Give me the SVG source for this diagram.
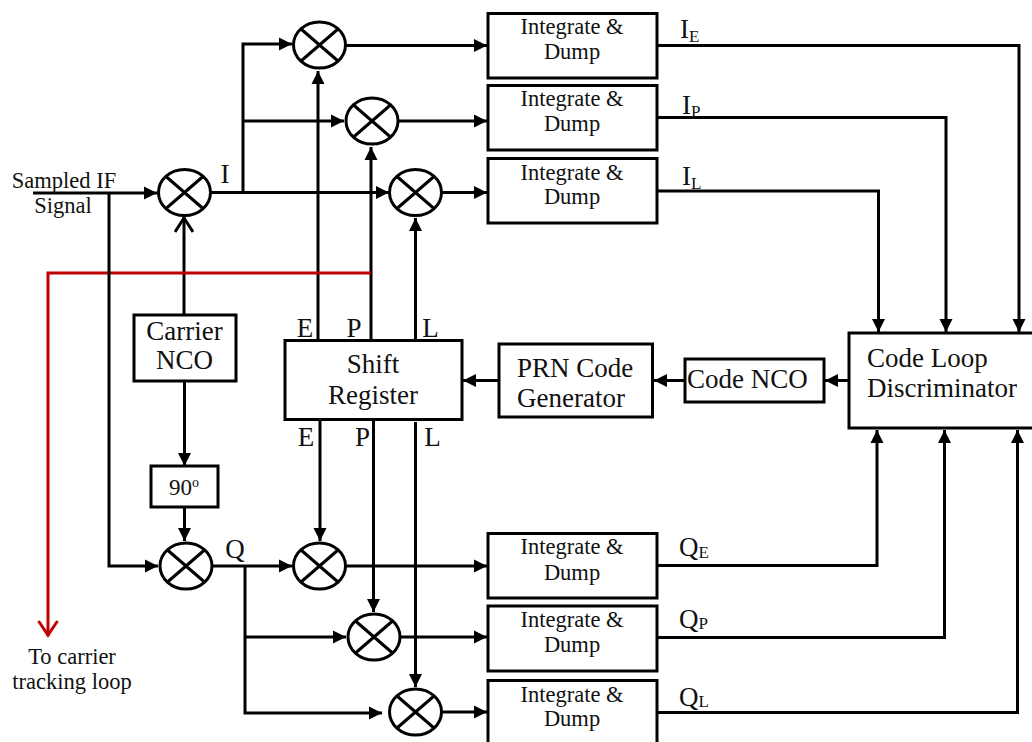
<svg xmlns="http://www.w3.org/2000/svg" width="1032" height="742" viewBox="0 0 1032 742">
<style>
text{font-family:"Liberation Serif","Times New Roman",serif;fill:#111;text-anchor:middle}
.s{font-size:22.500px}.l{font-size:27px}
.st{text-anchor:start}
.sub{font-size:17px}
.box{fill:#fff;stroke:#000;stroke-width:3}
#cross ellipse{fill:#fff;stroke:#000;stroke-width:3}
#cross path{fill:none;stroke:#000;stroke-width:3}
#connectors path{fill:none;stroke:#000;stroke-width:3}
#connectors .a{marker-end:url(#ah)}
#connectors .o{marker-end:url(#oh)}
#connectors .r{stroke:#c00000;marker-end:url(#rh)}
</style>
<defs>
<marker id="ah" markerUnits="userSpaceOnUse" markerWidth="14" markerHeight="14" refX="13" refY="7" orient="auto"><path d="M0 0.500L13 7L0 13.500Z" fill="#000"/></marker>
<marker id="oh" markerUnits="userSpaceOnUse" markerWidth="18" markerHeight="20" refX="16" refY="10" orient="auto"><path d="M1 1L15 10L1 19" fill="none" stroke="#000" stroke-width="3"/></marker>
<marker id="rh" markerUnits="userSpaceOnUse" markerWidth="18" markerHeight="22" refX="16" refY="11" orient="auto"><path d="M1 1.500L15 11L1 20.500" fill="none" stroke="#c00000" stroke-width="3"/></marker>
<g id="cross"><ellipse cx="0" cy="0" rx="26" ry="23"/><path d="M-18.500 -16L18.500 16M18.500 -16L-18.500 16"/></g>
</defs>
<g id="connectors">
<path class="a" d="M33 193H157"/>
<path class="a" d="M211 192.500H389"/>
<path class="a" d="M243 192V44H292"/>
<path class="a" d="M243 121H344"/>
<path class="a" d="M346 45.500H487"/>
<path class="a" d="M399 121H487"/>
<path class="a" d="M442 192.500H487"/>
<path class="a" d="M318 339V71"/>
<path class="a" d="M371 339V147"/>
<path class="a" d="M415.500 339V218"/>
<path class="o" d="M184 315V217"/>
<path class="r" d="M371 273H48V636"/>
<path class="a" d="M109 193V566H158"/>
<path class="a" d="M184.500 381V466"/>
<path class="a" d="M184.500 507V541"/>
<path class="a" d="M213 566H292"/>
<path class="a" d="M245 566V713H382"/>
<path class="a" d="M245 637H346"/>
<path class="a" d="M346 566H487"/>
<path class="a" d="M401 637H487"/>
<path class="a" d="M442 712H487"/>
<path class="a" d="M320 420V541"/>
<path class="a" d="M373.500 420V612"/>
<path class="a" d="M415.500 422V687"/>
<path class="a" d="M499 380.500H463"/>
<path class="a" d="M685 380.500H654"/>
<path class="a" d="M849 380.500H825"/>
<path class="a" d="M657 45.500H1019V332"/>
<path class="a" d="M657 117.500H946V332"/>
<path class="a" d="M657 191H878.500V332"/>
<path class="a" d="M657 565.500H877V430"/>
<path class="a" d="M657 637.500H944.500V430"/>
<path class="a" d="M657 712.500H1017.500V430"/>
</g>
<g id="mixer-ie"><use href="#cross" x="319.500" y="45"/></g>
<g id="mixer-ip"><use href="#cross" x="372" y="121"/></g>
<g id="mixer-il"><use href="#cross" x="415.500" y="192.500"/></g>
<g id="mixer-i"><use href="#cross" x="184.500" y="192.500"/></g>
<g id="mixer-q"><use href="#cross" x="186" y="566"/></g>
<g id="mixer-qe"><use href="#cross" x="319.500" y="566"/></g>
<g id="mixer-qp"><use href="#cross" x="374" y="637"/></g>
<g id="mixer-ql"><use href="#cross" x="415.500" y="712"/></g>
<g id="id-ie"><rect class="box" x="488" y="13.500" width="169" height="64.500"/><text class="s" x="572" y="34">Integrate &amp;</text><text class="s" x="572" y="59">Dump</text></g>
<g id="id-ip"><rect class="box" x="488" y="85.500" width="169" height="64.500"/><text class="s" x="572" y="106">Integrate &amp;</text><text class="s" x="572" y="131">Dump</text></g>
<g id="id-il"><rect class="box" x="488" y="158.500" width="169" height="64.500"/><text class="s" x="572" y="180">Integrate &amp;</text><text class="s" x="572" y="204">Dump</text></g>
<g id="id-qe"><rect class="box" x="488" y="533.500" width="169" height="64.500"/><text class="s" x="572" y="554">Integrate &amp;</text><text class="s" x="572" y="580">Dump</text></g>
<g id="id-qp"><rect class="box" x="488" y="606" width="169" height="65"/><text class="s" x="572" y="627">Integrate &amp;</text><text class="s" x="572" y="652">Dump</text></g>
<g id="id-ql"><rect class="box" x="488" y="680.500" width="169" height="70"/><text class="s" x="572" y="702">Integrate &amp;</text><text class="s" x="572" y="726">Dump</text></g>
<g id="carrier-nco"><rect class="box" x="134" y="315" width="102" height="66"/><text class="l" x="184.500" y="340">Carrier</text><text class="l" x="184.500" y="369">NCO</text></g>
<g id="phase-90"><rect class="box" x="151" y="466" width="67" height="41"/><text x="184" y="495" font-size="23">90<tspan font-size="14" dy="-8">o</tspan></text></g>
<g id="shift-register"><rect class="box" x="285" y="340.500" width="177" height="79"/><text class="l" x="373" y="373">Shift</text><text class="l" x="373" y="404">Register</text></g>
<g id="prn"><rect class="box" x="499" y="344" width="153.500" height="73"/><text class="l st" x="517" y="377">PRN Code</text><text class="l st" x="517" y="407">Generator</text></g>
<g id="code-nco"><rect class="box" x="685" y="359" width="139" height="43"/><text class="l st" x="687" y="388">Code NCO</text></g>
<g id="discriminator"><rect class="box" x="849" y="333" width="190" height="95"/><text class="l st" x="867" y="367">Code Loop</text><text class="l st" x="867" y="397">Discriminator</text></g>
<g id="labels">
<text class="s" x="64" y="188">Sampled IF</text><text class="s" x="63" y="213">Signal</text>
<text class="l" x="225" y="183">I</text><text class="l" x="235" y="558">Q</text>
<text class="l" x="305" y="337">E</text><text class="l" x="354" y="337">P</text><text class="l" x="430.500" y="337">L</text>
<text class="l" x="306" y="446">E</text><text class="l" x="362.500" y="446">P</text><text class="l" x="432.500" y="446">L</text>
<text class="s" x="72" y="664">To carrier</text><text class="s" x="72" y="689">tracking loop</text>
<text class="l st" x="680" y="38">I<tspan class="sub" dy="4">E</tspan></text>
<text class="l st" x="682" y="114">I<tspan class="sub" dy="3">P</tspan></text>
<text class="l st" x="682" y="185">I<tspan class="sub" dy="4">L</tspan></text>
<text class="l st" x="679" y="556">Q<tspan class="sub" dy="2">E</tspan></text>
<text class="l st" x="679" y="628">Q<tspan class="sub" dy="1">P</tspan></text>
<text class="l st" x="679" y="706">Q<tspan class="sub" dy="1">L</tspan></text>
</g>
</svg>
